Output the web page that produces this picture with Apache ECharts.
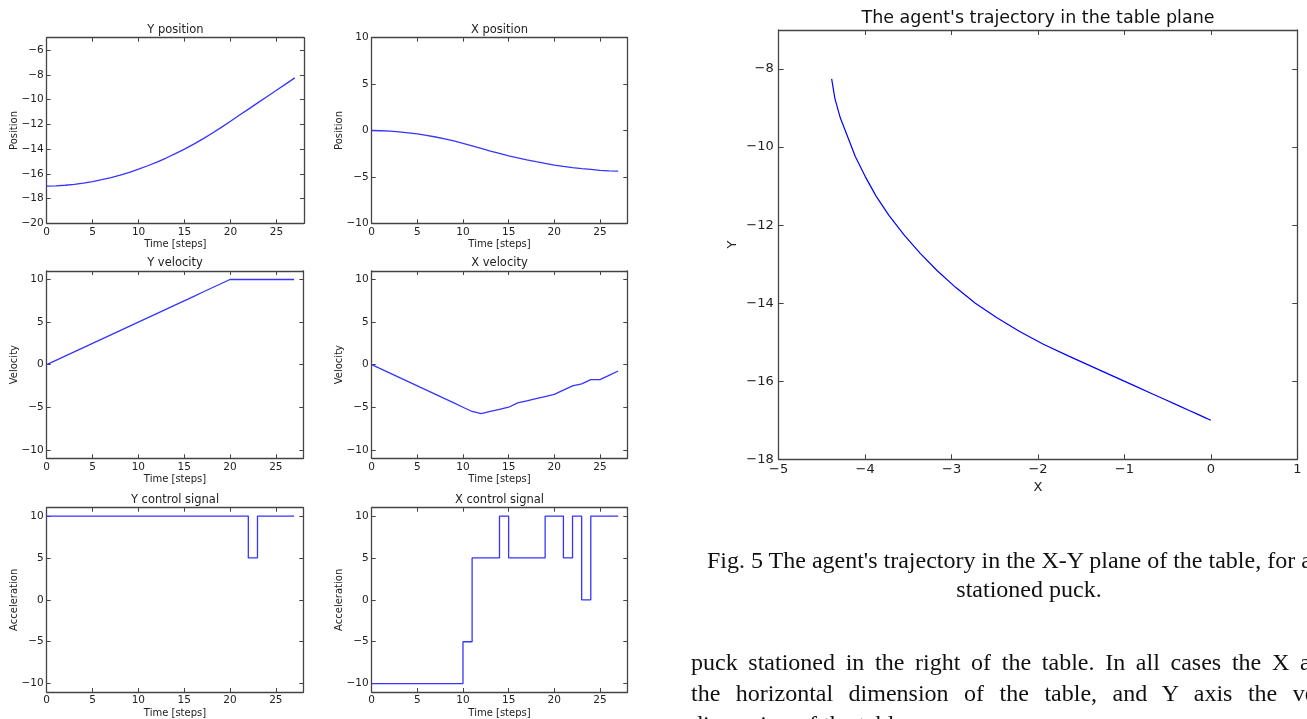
<!DOCTYPE html>
<html>
<head>
<meta charset="utf-8">
<script src="https://cdn.jsdelivr.net/npm/echarts@6/dist/echarts.min.js"></script>
<style>
  html, body { margin: 0; padding: 0; background: #fff; width: 1307px; height: 719px; overflow: hidden; }
  #chart { position: absolute; left: 0; top: 0; width: 1307px; height: 719px; }
  .txt { position: absolute; font-family: "Liberation Serif", "Times New Roman", serif; color: #111;
         white-space: nowrap; font-size: 24px; line-height: 24px; }
</style>
</head>
<body>
<div id="chart"></div>
<div class="txt" style="left:707px;top:548px;font-size:24px;">Fig. 5 The agent's trajectory in the X-Y plane of the table, for a</div>
<div class="txt" style="left:1029px;top:577px;font-size:24px;transform:translateX(-50%);">stationed puck.</div>
<div class="txt" style="left:691px;top:650px;word-spacing:4.7px;">puck stationed in the right of the table. In all cases the X axis</div>
<div class="txt" style="left:691px;top:681px;word-spacing:9.5px;">the horizontal dimension of the table, and Y axis the vertical</div>
<div class="txt" style="left:691px;top:712px;">dimension of the table.</div>
<script>
// Simulation log of the agent, one value per time step
const steps      = [0,1,2,3,4,5,6,7,8,9,10,11,12,13,14,15,16,17,18,19,20,21,22,23,24,25,26,27];
const yPosition  = [-17,-16.975,-16.925,-16.85,-16.75,-16.625,-16.475,-16.3,-16.1,-15.875,-15.625,-15.35,-15.05,-14.725,
                    -14.375,-14,-13.6,-13.175,-12.725,-12.25,-11.75,-11.25,-10.75,-10.25,-9.75,-9.25,-8.75,-8.25];
const xPosition  = [0,-0.025,-0.075,-0.15,-0.25,-0.375,-0.525,-0.7,-0.9,-1.125,-1.375,-1.65,-1.9375,-2.2125,
                    -2.475,-2.725,-2.95,-3.1625,-3.3625,-3.55,-3.725,-3.875,-4,-4.1125,-4.2,-4.2875,-4.35,-4.3875];
const yVelocity  = [0,0.5,1,1.5,2,2.5,3,3.5,4,4.5,5,5.5,6,6.5,7,7.5,8,8.5,9,9.5,10,10,10,10,10,10,10,10];
const xVelocity  = [0,-0.5,-1,-1.5,-2,-2.5,-3,-3.5,-4,-4.5,-5,-5.5,-5.75,-5.5,-5.25,-5,-4.5,-4.25,-4,-3.75,
                    -3.5,-3,-2.5,-2.25,-1.75,-1.75,-1.25,-0.75];
const yControl   = [10,10,10,10,10,10,10,10,10,10,10,10,10,10,10,10,10,10,10,10,10,10,5,10,10,10,10,10];
const xControl   = [-10,-10,-10,-10,-10,-10,-10,-10,-10,-10,-5,5,5,5,10,5,5,5,5,10,10,5,10,0,10,10,10,10];

// Tick values
const timeTicks   = [0,5,10,15,20,25];
const yPosTicks   = [-20,-18,-16,-14,-12,-10,-8,-6];
const xPosTicks   = [-10,-5,0,5,10];
const signalTicks = [-10,-5,0,5,10];
const planeXTicks = [-5,-4,-3,-2,-1,0,1];
const planeYTicks = [-18,-16,-14,-12,-10,-8];

const FONT = '"DejaVu Sans", Verdana, sans-serif';
const FRAME = '#444';
const TEXT = '#222';
const minus = v => String(v).replace('-', '\u2212');

// panel boxes: left, top, width, height
const panels = [
  { box: [46.7, 37.7, 257.3, 185.6], title: 'Y position',        yName: 'Position',     y: [-20, -5],  yTicks: yPosTicks,   data: yPosition },
  { box: [371.7, 37.7, 255.6, 185.6], title: 'X position',       yName: 'Position',     y: [-10, 10],  yTicks: xPosTicks,   data: xPosition },
  { box: [46.7, 271, 256.6, 187.3],  title: 'Y velocity',        yName: 'Velocity',     y: [-11, 11],  yTicks: signalTicks, data: yVelocity },
  { box: [371.7, 271, 255.6, 187.3], title: 'X velocity',        yName: 'Velocity',     y: [-11, 11],  yTicks: signalTicks, data: xVelocity },
  { box: [46.7, 507.7, 256.6, 185.6], title: 'Y control signal', yName: 'Acceleration', y: [-11, 11],  yTicks: signalTicks, data: yControl, step: true },
  { box: [371.7, 507.7, 255.6, 185.6], title: 'X control signal',yName: 'Acceleration', y: [-11, 11],  yTicks: signalTicks, data: xControl, step: true }
];

const grid = [], xAxis = [], yAxis = [], series = [], graphic = [];

function frameAxis(gi, min, max, ticks, opts) {
  const ax = {
    type: 'value', gridIndex: gi, min: min, max: max, position: opts.position,
    axisLine: { show: true, onZero: false, lineStyle: { color: FRAME, width: 1.3 } },
    axisTick: { show: true, inside: true, length: opts.tickLen, customValues: ticks, lineStyle: { color: FRAME, width: 1 } },
    axisLabel: { show: !!opts.labels, customValues: ticks, formatter: minus, fontFamily: FONT, fontSize: opts.fontSize,
                 color: TEXT, margin: opts.margin },
    splitLine: { show: false }
  };
  if (opts.name) {
    ax.name = opts.name;
    ax.nameLocation = 'middle';
    ax.nameGap = opts.nameGap;
    ax.nameMoveOverlap = false;
    ax.nameTextStyle = { fontFamily: FONT, fontSize: opts.nameSize, color: TEXT };
  }
  return ax;
}

panels.forEach((p, i) => {
  const [l, t, w, h] = p.box;
  grid.push({ left: l, top: t, width: w, height: h, show: false });
  xAxis.push(frameAxis(i, 0, 28, timeTicks, { position: 'bottom', labels: true, tickLen: 4, fontSize: 10.5, margin: 3,
                                              name: 'Time [steps]', nameGap: 16, nameSize: 10 }));
  xAxis.push(frameAxis(i, 0, 28, timeTicks, { position: 'top', tickLen: 4 }));
  yAxis.push(frameAxis(i, p.y[0], p.y[1], p.yTicks, { position: 'left', labels: true, tickLen: 4, fontSize: 10.5, margin: 3,
                                                      name: p.yName, nameGap: 27, nameSize: 10 }));
  yAxis.push(frameAxis(i, p.y[0], p.y[1], p.yTicks, { position: 'right', tickLen: 4 }));
  series.push({
    type: 'line', xAxisIndex: 2 * i, yAxisIndex: 2 * i, showSymbol: false, silent: true,
    step: p.step ? 'end' : false,
    data: steps.map((s, k) => [s, p.data[k]]),
    lineStyle: { color: '#3535ff', width: 1.3 }
  });
  graphic.push({ type: 'text', x: l + w / 2, y: t - 8,
    style: { text: p.title, font: '11.5px ' + FONT, fill: TEXT, textAlign: 'center', align: 'center',
             textVerticalAlign: 'middle', verticalAlign: 'middle' } });
});

// trajectory in the table plane
const gi = panels.length;
grid.push({ left: 778.7, top: 30, width: 518.6, height: 429.3, show: false });
xAxis.push(frameAxis(gi, -5, 1, planeXTicks, { position: 'bottom', labels: true, tickLen: 5, fontSize: 13, margin: 4,
                                               name: 'X', nameGap: 22, nameSize: 13 }));
xAxis.push(frameAxis(gi, -5, 1, planeXTicks, { position: 'top', tickLen: 5 }));
yAxis.push(frameAxis(gi, -18, -7, planeYTicks, { position: 'left', labels: true, tickLen: 5, fontSize: 13, margin: 5,
                                                 name: 'Y', nameGap: 40, nameSize: 13 }));
yAxis.push(frameAxis(gi, -18, -7, planeYTicks, { position: 'right', tickLen: 5 }));
series.push({
  type: 'line', xAxisIndex: 2 * gi, yAxisIndex: 2 * gi, showSymbol: false, silent: true,
  data: xPosition.map((x, k) => [x, yPosition[k]]),
  lineStyle: { color: '#0000ff', width: 1.2 }
});
graphic.push({ type: 'text', x: 778.7 + 518.6 / 2, y: 18,
  style: { text: "The agent's trajectory in the table plane", font: '17.5px ' + FONT, fill: '#111', textAlign: 'center', align: 'center',
           textVerticalAlign: 'middle', verticalAlign: 'middle' } });

const chart = echarts.init(document.getElementById('chart'), null, { renderer: 'canvas' });
chart.setOption({ animation: false, backgroundColor: '#fff', grid, xAxis, yAxis, series, graphic });
</script>
</body>
</html>
